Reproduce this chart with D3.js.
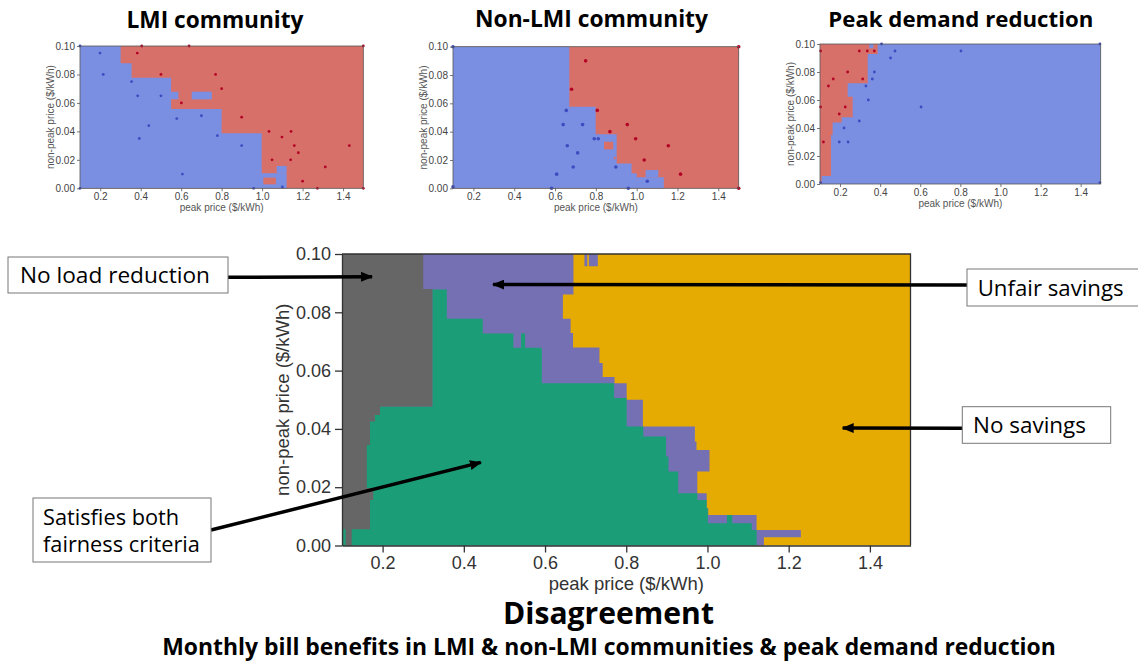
<!DOCTYPE html>
<html lang="en">
<head>
<meta charset="UTF-8">
<title>Disagreement</title>
<script src="https://d3js.org/d3.v7.min.js"></script>
<style>
  body { margin: 0; background: #fff; }
  svg { display: block; }
</style>
</head>
<body>
<svg id="chart" width="1138" height="662"></svg>
<script>
// ---- data (prices in $/kWh) ----
const xTicks = [0.2, 0.4, 0.6, 0.8, 1.0, 1.2, 1.4];
const yTicks = [0, 0.02, 0.04, 0.06, 0.08, 0.10];
const panelTitles = ["LMI community", "Non-LMI community", "Peak demand reduction"];

// main chart: "No savings" fills the grid, the other classes are painted over it
// rows: [yLow, yHigh, xRight]   cols: [xLeft, xRight, yTop]
const purpleRows = [
  [0.0861, 0.1000, 0.670], [0.0778, 0.0861, 0.644], [0.0729, 0.0778, 0.663],
  [0.0679, 0.0729, 0.669], [0.0626, 0.0679, 0.734], [0.0578, 0.0626, 0.742],
  [0.0557, 0.0578, 0.771], [0.0500, 0.0557, 0.801], [0.0408, 0.0500, 0.841],
  [0.0357, 0.0408, 0.969], [0.0328, 0.0357, 0.973], [0.0254, 0.0328, 1.005],
  [0.0179, 0.0254, 0.975], [0.0128, 0.0179, 0.998], [0.0105, 0.0128, 1.002],
  [0.0053, 0.0105, 1.121], [0.0028, 0.0053, 1.230], [0.0000, 0.0028, 1.139]
];
const purpleNotches = [[0.697, 0.704, 0.0958, 0.100], [0.708, 0.730, 0.0958, 0.100]];
const greenCols = [
  [0.100, 0.3225, 0.0477], [0.3225, 0.358, 0.0878], [0.358, 0.4466, 0.0778],
  [0.4466, 0.522, 0.0727], [0.522, 0.541, 0.0678], [0.541, 0.551, 0.0727],
  [0.551, 0.592, 0.0678], [0.592, 0.770, 0.0557], [0.770, 0.801, 0.0506],
  [0.801, 0.842, 0.0408], [0.842, 0.898, 0.0374], [0.898, 0.904, 0.0305],
  [0.904, 0.928, 0.0254], [0.928, 0.975, 0.0179], [0.975, 0.998, 0.0156],
  [0.998, 1.001, 0.0128], [1.001, 1.048, 0.0076], [1.048, 1.061, 0.0105],
  [1.061, 1.109, 0.0076], [1.109, 1.121, 0.0053]
];
const grayRows = [
  [0.0880, 0.1000, 0.300], [0.0477, 0.0880, 0.3225], [0.0448, 0.0477, 0.1936],
  [0.0425, 0.0448, 0.181], [0.0345, 0.0425, 0.169], [0.0197, 0.0345, 0.161],
  [0.0156, 0.0197, 0.177], [0.0056, 0.0156, 0.169], [0.0000, 0.0056, 0.124]
];
const greenSliver = [[0.103, 0.109, 0.0000, 0.0056]];

// annotations: [label lines, arrow tip x, arrow tip y]
const notes = [
  [["No load reduction"], 0.174, 0.0922],
  [["Unfair savings"], 0.472, 0.0895],
  [["No savings"], 1.333, 0.0403],
  [["Satisfies both", "fairness criteria"], 0.442, 0.0285]
];

// small panels: rows of the second class over a background, islands [x0, x1, y0, y1, cls]
const lmiBlueRows = [
  [0.0878, 0.100, 0.301], [0.0777, 0.0878, 0.355], [0.0679, 0.0777, 0.550],
  [0.0625, 0.0679, 0.586], [0.0557, 0.0625, 0.550], [0.0386, 0.0557, 0.800],
  [0.0105, 0.0386, 0.998], [0.0000, 0.0105, 1.121]
];
const lmiIslands = [
  [0.652, 0.751, 0.0625, 0.0679, "b"], [1.072, 1.121, 0.0105, 0.0157, "b"],
  [1.006, 1.068, 0.0028, 0.0075, "r"], [0.800, 0.840, 0.0420, 0.0435, "r"]
];
const lmiRedPts = [
  [0.405, 0.100], [0.639, 0.100], [1.50, 0.100], [0.383, 0.095], [0.500, 0.080],
  [0.770, 0.080], [0.800, 0.070], [0.601, 0.060], [0.899, 0.050], [1.034, 0.040],
  [1.143, 0.040], [1.098, 0.036], [1.159, 0.030], [1.431, 0.030], [1.179, 0.025],
  [1.049, 0.020], [1.141, 0.020], [1.312, 0.015], [1.200, 0.005], [1.273, 0.000],
  [1.50, 0.000]
];
const lmiBluePts = [
  [0.100, 0.100], [0.199, 0.095], [0.215, 0.080], [0.355, 0.075], [0.385, 0.065],
  [0.500, 0.065], [0.578, 0.049], [0.700, 0.051], [0.440, 0.044], [0.393, 0.035],
  [0.779, 0.037], [0.899, 0.030], [0.606, 0.010], [0.958, 0.000], [1.100, 0.001],
  [0.100, 0.000]
];

const nonBlueRows = [
  [0.0576, 0.100, 0.670], [0.0381, 0.0576, 0.799], [0.0176, 0.0381, 0.902],
  [0.0106, 0.0176, 0.975], [0.0078, 0.0106, 1.000], [0.0000, 0.0078, 1.133]
];
const nonIslands = [
  [1.044, 1.106, 0.0078, 0.0129, "b"], [0.840, 0.885, 0.0275, 0.0329, "r"],
  [0.812, 0.840, 0.0428, 0.0445, "r"], [0.888, 0.897, 0.0205, 0.0222, "r"]
];
const nonRedPts = [
  [0.750, 0.090], [0.681, 0.070], [0.807, 0.055], [0.869, 0.040], [0.954, 0.045],
  [0.995, 0.035], [1.037, 0.020], [1.155, 0.030], [1.215, 0.010], [1.50, 0.100],
  [1.50, 0.000]
];
const nonBluePts = [
  [0.100, 0.100], [0.100, 0.001], [0.655, 0.055], [0.640, 0.045], [0.735, 0.045],
  [0.660, 0.030], [0.711, 0.025], [0.689, 0.015], [0.608, 0.010], [0.583, 0.000],
  [0.792, 0.035], [0.812, 0.035], [0.898, 0.015], [1.052, 0.005], [0.959, 0.000]
];

const peakRedRows = [
  [0.0969, 0.100, 0.346], [0.0929, 0.0969, 0.388], [0.0719, 0.0929, 0.338],
  [0.0624, 0.0719, 0.238], [0.0476, 0.0624, 0.263], [0.0440, 0.0476, 0.208],
  [0.0350, 0.0440, 0.163], [0.0057, 0.0350, 0.155], [0.0000, 0.0057, 0.108]
];
const peakIslands = [[0.366, 0.388, 0.0969, 0.100, "r"]];
const peakRedPts = [
  [0.103, 0.095], [0.296, 0.095], [0.336, 0.095], [0.371, 0.095], [0.238, 0.080],
  [0.166, 0.075], [0.313, 0.075], [0.142, 0.070], [0.103, 0.055], [0.226, 0.055],
  [0.196, 0.050], [0.117, 0.030]
];
const peakBluePts = [
  [0.407, 0.100], [0.474, 0.095], [0.803, 0.095], [0.452, 0.090], [0.371, 0.080],
  [0.361, 0.075], [0.329, 0.070], [0.341, 0.060], [0.604, 0.055], [0.296, 0.045],
  [0.220, 0.040], [0.196, 0.030], [0.240, 0.030], [1.496, 0.001], [1.496, 0.100],
  [0.103, 0.001]
];

// ---- drawing ----
const svg = d3.select("#chart");
const UI = "'Open Sans', 'Noto Sans', sans-serif";
const AX = "'Liberation Sans', Arial, sans-serif";
const C = { gray: "#666666", purple: "#7570b3", green: "#1b9e77", orange: "#e6ab02",
            b: "#7b8fe2", r: "#d8706a", bPt: "#3b4cc0", rPt: "#b40426" };

// shrink/grow a text so it spans a given width
function fitWidth(t, w) {
  const fs = parseFloat(t.attr("font-size"));
  t.attr("font-size", (fs * w / t.node().getComputedTextLength()).toFixed(2));
}

// one path per class so neighbouring bands join without seams
function rowsPath(rows, x, y, x0) {
  const p = d3.path();
  rows.forEach(d => p.rect(x(x0), y(d[1]), x(d[2]) - x(x0), y(d[0]) - y(d[1])));
  return p.toString();
}
function colsPath(cols, x, y) {
  const p = d3.path();
  cols.forEach(d => p.rect(x(d[0]), y(d[2]), x(d[1]) - x(d[0]), y(0) - y(d[2])));
  return p.toString();
}
function boxPath(boxes, x, y) {
  const p = d3.path();
  boxes.forEach(d => p.rect(x(d[0]), y(d[3]), x(d[1]) - x(d[0]), y(d[2]) - y(d[3])));
  return p.toString();
}

// main chart
const mx = d3.scaleLinear().domain([0.1, 1.5]).range([342, 910.5]);
const my = d3.scaleLinear().domain([0, 0.1]).range([545.5, 254]);
const main = svg.append("g");

main.append("rect")
  .attr("x", mx(0.1)).attr("y", my(0.1))
  .attr("width", mx(1.5) - mx(0.1)).attr("height", my(0) - my(0.1))
  .attr("fill", C.orange);
main.append("path").attr("d", rowsPath(purpleRows, mx, my, 0.1)).attr("fill", C.purple);
main.append("path").attr("d", boxPath(purpleNotches, mx, my)).attr("fill", C.purple);
main.append("path").attr("d", colsPath(greenCols, mx, my)).attr("fill", C.green);
main.append("path").attr("d", rowsPath(grayRows, mx, my, 0.1)).attr("fill", C.gray);
main.append("path").attr("d", boxPath(greenSliver, mx, my)).attr("fill", C.green);

const gx = main.append("g").attr("transform", `translate(0,${my(0)})`)
  .call(d3.axisBottom(mx).tickValues(xTicks).tickFormat(d3.format(".1f"))
    .tickSize(7).tickPadding(4).tickSizeOuter(0));
const gy = main.append("g").attr("transform", `translate(${mx(0.1)},0)`)
  .call(d3.axisLeft(my).tickValues(yTicks).tickFormat(d3.format(".2f"))
    .tickSize(7).tickPadding(4).tickSizeOuter(0));
[gx, gy].forEach(g => {
  g.selectAll("path, line").attr("stroke", "#333").attr("stroke-width", 1.3);
  g.selectAll("text").attr("font-family", AX).attr("font-size", 18).attr("fill", "#333");
});
main.append("path")
  .attr("d", `M${mx(0.1)},${my(0.1)}H${mx(1.5)}V${my(0)}`)
  .attr("fill", "none").attr("stroke", "#333").attr("stroke-width", 1.3);
main.append("text").attr("x", (mx(0.1) + mx(1.5)) / 2).attr("y", 590)
  .attr("text-anchor", "middle").attr("font-family", AX).attr("font-size", 18.5)
  .attr("fill", "#333").text("peak price ($/kWh)");
main.append("text")
  .attr("transform", `translate(289,${(my(0) + my(0.1)) / 2}) rotate(-90)`)
  .attr("text-anchor", "middle").attr("font-family", AX).attr("font-size", 18.5)
  .attr("fill", "#333").text("non-peak price ($/kWh)");

// small panels
const panels = [
  { left: 80, right: 363.3, top: 46, bottom: 188.3, bg: "r", fg: "b", rows: lmiBlueRows,
    islands: lmiIslands, red: lmiRedPts, blue: lmiBluePts, rad: 1.4,
    tx: 215, ty: 28.3, tw: 177 },
  { left: 453, right: 738.7, top: 46.7, bottom: 188.3, bg: "r", fg: "b", rows: nonBlueRows,
    islands: nonIslands, red: nonRedPts, blue: nonBluePts, rad: 1.8,
    tx: 591.5, ty: 27.3, tw: 233 },
  { left: 820, right: 1100.7, top: 44, bottom: 184, bg: "b", fg: "r", rows: peakRedRows,
    islands: peakIslands, red: peakRedPts, blue: peakBluePts, rad: 1.4,
    tx: 960.8, ty: 26.7, tw: 265 }
];

panels.forEach((p, i) => {
  const x = d3.scaleLinear().domain([0.1, 1.5]).range([p.left, p.right]);
  const y = d3.scaleLinear().domain([0, 0.1]).range([p.bottom, p.top]);
  const g = svg.append("g");
  g.append("rect").attr("x", p.left).attr("y", p.top)
    .attr("width", p.right - p.left).attr("height", p.bottom - p.top).attr("fill", C[p.bg]);
  g.append("path").attr("d", rowsPath(p.rows, x, y, 0.1)).attr("fill", C[p.fg]);
  g.selectAll(".isl").data(p.islands).join("rect")
    .attr("x", d => x(d[0])).attr("y", d => y(d[3]))
    .attr("width", d => x(d[1]) - x(d[0])).attr("height", d => y(d[2]) - y(d[3]))
    .attr("fill", d => C[d[4]]);
  g.selectAll(".rp").data(p.red).join("circle")
    .attr("cx", d => x(d[0])).attr("cy", d => y(d[1])).attr("r", p.rad).attr("fill", C.rPt);
  g.selectAll(".bp").data(p.blue).join("circle")
    .attr("cx", d => x(d[0])).attr("cy", d => y(d[1])).attr("r", p.rad).attr("fill", C.bPt);
  g.append("rect").attr("x", p.left).attr("y", p.top)
    .attr("width", p.right - p.left).attr("height", p.bottom - p.top)
    .attr("fill", "none").attr("stroke", "#555").attr("stroke-width", 0.8);

  const ax = g.append("g").attr("transform", `translate(0,${p.bottom})`)
    .call(d3.axisBottom(x).tickValues(xTicks).tickFormat(d3.format(".1f"))
      .tickSize(3).tickPadding(2).tickSizeOuter(0));
  const ay = g.append("g").attr("transform", `translate(${p.left},0)`)
    .call(d3.axisLeft(y).tickValues(yTicks).tickFormat(d3.format(".2f"))
      .tickSize(3).tickPadding(2).tickSizeOuter(0));
  [ax, ay].forEach(a => {
    a.select(".domain").remove();
    a.selectAll("line").attr("stroke", "#555").attr("stroke-width", 0.8);
    a.selectAll("text").attr("font-family", AX).attr("font-size", 10).attr("fill", "#444");
  });
  g.append("text").attr("x", (p.left + p.right) / 2).attr("y", p.bottom + 23)
    .attr("text-anchor", "middle").attr("font-family", AX).attr("font-size", 10)
    .attr("fill", "#555").text("peak price ($/kWh)");
  g.append("text")
    .attr("transform", `translate(${p.left - 26},${(p.top + p.bottom) / 2}) rotate(-90)`)
    .attr("text-anchor", "middle").attr("font-family", AX).attr("font-size", 10)
    .attr("fill", "#555").text("non-peak price ($/kWh)");
  const t = g.append("text").attr("x", p.tx).attr("y", p.ty).attr("text-anchor", "middle")
    .attr("font-family", UI).attr("font-weight", 700).attr("font-size", 23)
    .attr("fill", "#000").text(panelTitles[i]);
  fitWidth(t, p.tw);
});

// annotation boxes and arrows
svg.append("defs").append("marker")
  .attr("id", "head").attr("markerUnits", "userSpaceOnUse")
  .attr("viewBox", "0 -5 12 10").attr("refX", 11).attr("refY", 0)
  .attr("markerWidth", 12).attr("markerHeight", 10).attr("orient", "auto")
  .append("path").attr("d", "M0,-5L12,0L0,5Z").attr("fill", "#000");

const boxes = [
  { x: 8, y: 257, w: 220, h: 36, tx: 20, base: [283.3], tw: 190, from: [228, 277.3] },
  { x: 967, y: 269, w: 175, h: 37, tx: 977.7, base: [295.7], tw: 146, from: [967, 285] },
  { x: 962.3, y: 406.7, w: 148.4, h: 36.6, tx: 973, base: [432.7], tw: 113, from: [962.3, 428.3] },
  { x: 33, y: 498, w: 178, h: 64, tx: 43, base: [525, 551.5], tw: 157, from: [211, 530] }
];
notes.forEach((n, i) => {
  const b = boxes[i];
  svg.append("line")
    .attr("x1", b.from[0]).attr("y1", b.from[1])
    .attr("x2", mx(n[1])).attr("y2", my(n[2]))
    .attr("stroke", "#000").attr("stroke-width", 3.5).attr("marker-end", "url(#head)");
  svg.append("rect").attr("x", b.x).attr("y", b.y).attr("width", b.w).attr("height", b.h)
    .attr("fill", "#fff").attr("stroke", "#777").attr("stroke-width", 1);
  n[0].forEach((line, k) => {
    const t = svg.append("text").attr("x", b.tx).attr("y", b.base[k])
      .attr("font-family", UI).attr("font-size", 21).attr("fill", "#000").text(line);
    if (k === n[0].length - 1) fitWidth(t, b.tw);
    if (k < n[0].length - 1) t.attr("data-pending", 1);
  });
});
// keep multi-line boxes at one font size
svg.selectAll("text[data-pending]").each(function () {
  const next = this.nextSibling;
  d3.select(this).attr("font-size", d3.select(next).attr("font-size"));
});

// figure titles
const t1 = svg.append("text").attr("x", 608.5).attr("y", 624).attr("text-anchor", "middle")
  .attr("font-family", UI).attr("font-weight", 700).attr("font-size", 29)
  .attr("fill", "#000").text("Disagreement");
fitWidth(t1, 211);
const t2 = svg.append("text").attr("x", 609).attr("y", 655).attr("text-anchor", "middle")
  .attr("font-family", UI).attr("font-weight", 700).attr("font-size", 21)
  .attr("fill", "#000").text("Monthly bill benefits in LMI & non-LMI communities & peak demand reduction");
fitWidth(t2, 894);
</script>
</body>
</html>
